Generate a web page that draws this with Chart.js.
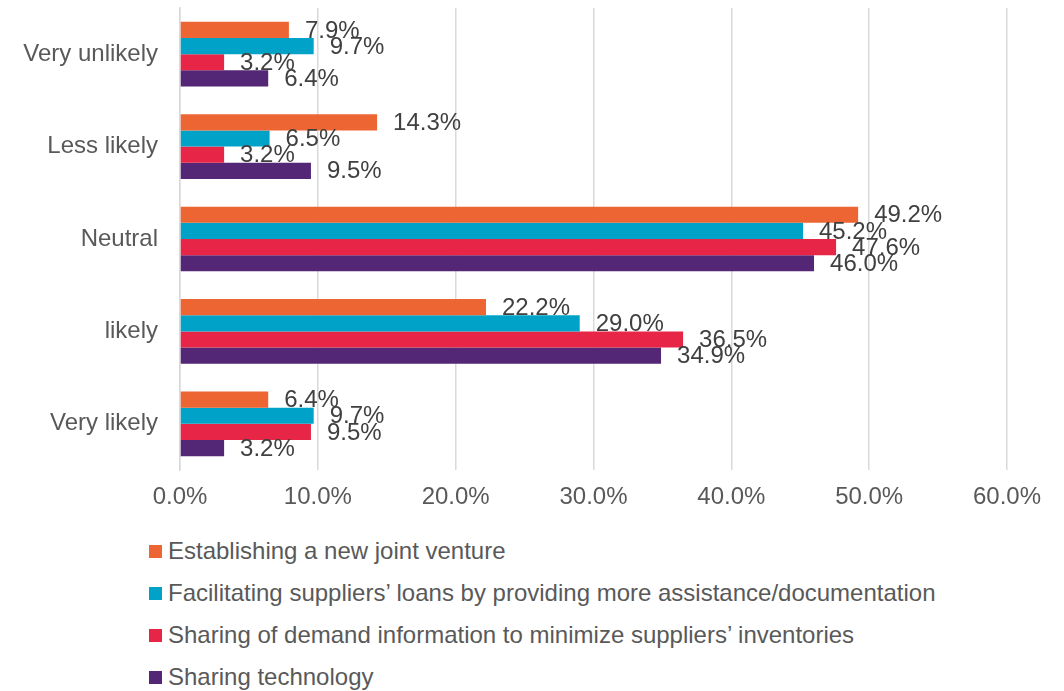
<!DOCTYPE html>
<html>
<head>
<meta charset="utf-8">
<script src="https://cdn.jsdelivr.net/npm/chart.js@4/dist/chart.umd.min.js"></script>
<style>
  body { margin: 0; background: #fff; font-family: 'Liberation Sans', Arial, sans-serif; }
  .wrap { position: relative; width: 1064px; height: 691px; }
  .chart-box { position: absolute; left: 0; top: 0; width: 1064px; height: 530px; }
  .legend { position: absolute; left: 149px; top: 536px; list-style: none; margin: 0; padding: 0; }
  .legend li { height: 42px; line-height: 30px; font-size: 24px; color: #595959; display: flex; align-items: flex-start; }
  .legend i { display: inline-block; width: 13px; height: 13px; margin: 9px 6px 0 0; }
</style>
</head>
<body>
<div class="wrap">
  <div class="chart-box"><canvas id="barChart"></canvas></div>
  <ul class="legend" id="legend"></ul>
</div>
<script>
const categories = ['Very unlikely', 'Less likely', 'Neutral', 'likely', 'Very likely'];
const seriesNames = [
    'Establishing a new joint venture',
    'Facilitating suppliers\u2019 loans by providing more assistance/documentation',
    'Sharing of demand information to minimize suppliers\u2019 inventories',
    'Sharing technology'
];
const jointVenture = [7.9, 14.3, 49.2, 22.2, 6.4];
const supplierLoans = [9.7, 6.5, 45.2, 29.0, 9.7];
const demandInfo = [3.2, 3.2, 47.6, 36.5, 9.5];
const technology = [6.4, 9.5, 46.0, 34.9, 3.2];
const xTicks = [0, 10, 20, 30, 40, 50, 60];

const colors = ['#ED6532', '#00A3C7', '#E72547', '#532676'];
const seriesData = [jointVenture, supplierLoans, demandInfo, technology];
const fontFamily = "'Liberation Sans', Arial, sans-serif";

// value labels drawn right of each bar
const valueLabels = {
    id: 'valueLabels',
    afterDatasetsDraw(chart) {
        const ctx = chart.ctx;
        ctx.save();
        ctx.font = '24px ' + fontFamily;
        ctx.fillStyle = '#404040';
        ctx.textBaseline = 'middle';
        ctx.textAlign = 'left';
        chart.data.datasets.forEach((ds, i) => {
            chart.getDatasetMeta(i).data.forEach((bar, j) => {
                ctx.fillText(ds.data[j].toFixed(1) + '%', bar.x + 16, bar.y + 1);
            });
        });
        ctx.restore();
    }
};

new Chart(document.getElementById('barChart').getContext('2d'), {
    type: 'bar',
    data: {
        labels: categories,
        datasets: seriesData.map((d, i) => ({
            label: seriesNames[i],
            data: d,
            backgroundColor: colors[i],
            categoryPercentage: 0.7,
            barPercentage: 1.0
        }))
    },
    options: {
        indexAxis: 'y',
        responsive: true,
        maintainAspectRatio: false,
        animation: false,
        layout: { padding: { top: 8, right: 57, left: 0, bottom: 0 } },
        plugins: {
            legend: { display: false },
            tooltip: { enabled: false }
        },
        scales: {
            x: {
                min: 0,
                max: 60,
                afterBuildTicks: s => { s.ticks = xTicks.map(v => ({ value: v })); },
                afterFit: s => { s.height = 60; s.paddingLeft = 0; s.paddingRight = 0; },
                grid: { color: '#D9D9D9', lineWidth: 1.5, drawTicks: false },
                border: { display: false },
                ticks: {
                    padding: 13,
                    color: '#595959',
                    font: { family: fontFamily, size: 24 },
                    callback: v => v.toFixed(1) + '%'
                }
            },
            y: {
                afterFit: s => { s.width = 180; s.paddingTop = 0; s.paddingBottom = 0; },
                grid: { display: false, drawTicks: false },
                border: { display: true, color: '#D9D9D9', width: 1.5 },
                ticks: {
                    padding: 22,
                    color: '#595959',
                    font: { family: fontFamily, size: 24 }
                }
            }
        }
    },
    plugins: [valueLabels]
});

// legend list
const legend = document.getElementById('legend');
seriesNames.forEach((name, i) => {
    const li = document.createElement('li');
    li.innerHTML = `<i style="background:${colors[i]}"></i><span>${name}</span>`;
    legend.appendChild(li);
});
</script>
</body>
</html>
